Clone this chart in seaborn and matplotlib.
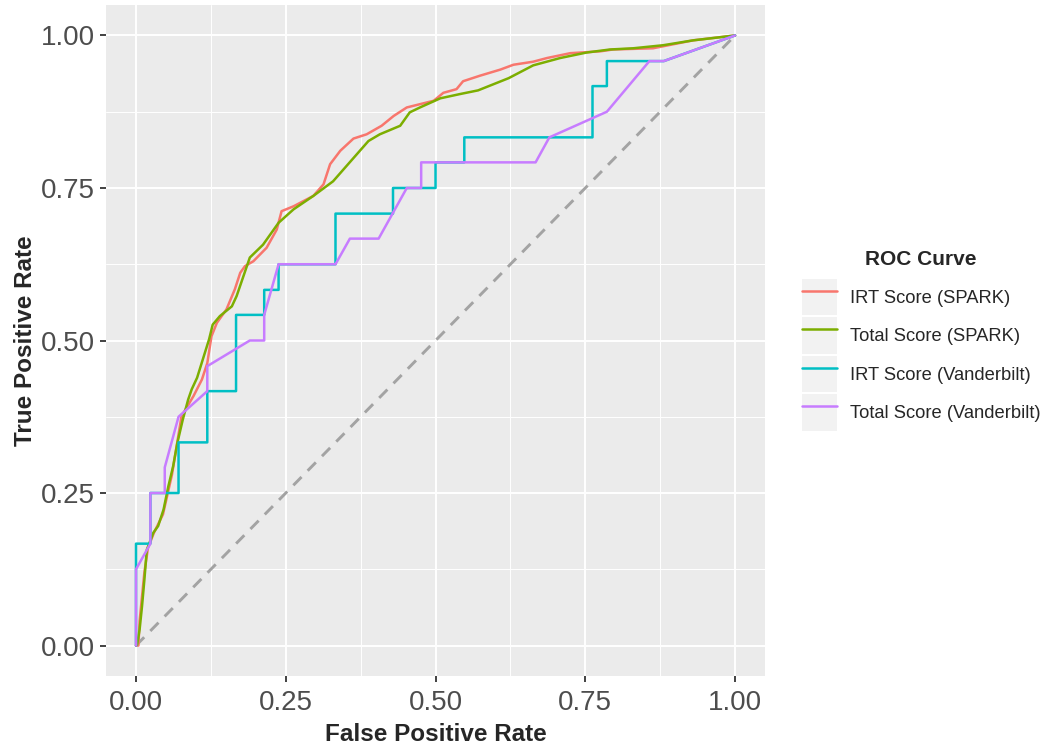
import matplotlib
matplotlib.use("Agg")
import matplotlib.pyplot as plt
from matplotlib.lines import Line2D
from matplotlib.patches import Patch
from matplotlib.legend_handler import HandlerTuple
from matplotlib.ticker import MultipleLocator
import seaborn as sns
import pandas as pd

series_names = ["IRT Score (SPARK)", "Total Score (SPARK)",
                "IRT Score (Vanderbilt)", "Total Score (Vanderbilt)"]
palette = ["#F8766D", "#7CAE00", "#00BFC4", "#C77CFF"]

irt_spark_fpr = [0, 0.004, 0.006, 0.01, 0.014, 0.02, 0.03, 0.045, 0.06, 0.076, 0.096, 0.11,
                 0.119, 0.126, 0.135, 0.151, 0.165, 0.174, 0.182, 0.196, 0.218, 0.235, 0.243,
                 0.263, 0.296, 0.313, 0.324, 0.341, 0.363, 0.385, 0.410, 0.430, 0.452, 0.497,
                 0.513, 0.535, 0.546, 0.574, 0.608, 0.630, 0.663, 0.686, 0.725, 0.775, 0.796,
                 0.863, 0.93, 1.0]
irt_spark_tpr = [0, 0.0, 0.04, 0.08, 0.12, 0.16, 0.185, 0.215, 0.28, 0.376, 0.409, 0.436,
                 0.463, 0.507, 0.529, 0.551, 0.584, 0.611, 0.622, 0.63, 0.652, 0.682, 0.712,
                 0.72, 0.737, 0.756, 0.789, 0.811, 0.831, 0.838, 0.852, 0.868, 0.882, 0.893,
                 0.906, 0.912, 0.925, 0.934, 0.944, 0.952, 0.957, 0.963, 0.971, 0.974, 0.977,
                 0.979, 0.992, 1.0]

total_spark_fpr = [0, 0.002, 0.006, 0.01, 0.014, 0.018, 0.029, 0.037, 0.046, 0.054, 0.062,
                   0.069, 0.078, 0.087, 0.093, 0.102, 0.115, 0.122, 0.128, 0.140, 0.160, 0.168,
                   0.190, 0.212, 0.238, 0.263, 0.296, 0.329, 0.354, 0.388, 0.407, 0.441, 0.457,
                   0.474, 0.508, 0.541, 0.571, 0.622, 0.663, 0.708, 0.752, 0.791, 0.830, 0.880,
                   0.930, 1.0]
total_spark_tpr = [0, 0.002, 0.026, 0.064, 0.108, 0.157, 0.185, 0.196, 0.223, 0.261, 0.294,
                   0.332, 0.370, 0.403, 0.42, 0.439, 0.48, 0.502, 0.526, 0.54, 0.556, 0.573,
                   0.636, 0.657, 0.693, 0.715, 0.737, 0.761, 0.789, 0.827, 0.838, 0.852, 0.874,
                   0.882, 0.897, 0.904, 0.910, 0.930, 0.951, 0.963, 0.972, 0.977, 0.979, 0.984,
                   0.992, 1.0]

irt_vand_fpr = [0, 0, 0.024, 0.024, 0.071, 0.071, 0.119, 0.119, 0.167, 0.167, 0.214, 0.214,
                0.238, 0.238, 0.333, 0.333, 0.429, 0.429, 0.5, 0.5, 0.548, 0.548, 0.762, 0.762,
                0.786, 0.786, 0.857, 0.881, 1.0]
irt_vand_tpr = [0, 0.167, 0.167, 0.25, 0.25, 0.333, 0.333, 0.417, 0.417, 0.542, 0.542, 0.583,
                0.583, 0.625, 0.625, 0.708, 0.708, 0.75, 0.75, 0.792, 0.792, 0.833, 0.833, 0.917,
                0.917, 0.958, 0.958, 0.958, 1.0]

total_vand_fpr = [0, 0, 0.024, 0.024, 0.048, 0.048, 0.071, 0.119, 0.119, 0.190, 0.214, 0.214,
                  0.238, 0.333, 0.357, 0.405, 0.452, 0.476, 0.476, 0.667, 0.690, 0.786, 0.857,
                  0.881, 1.0]
total_vand_tpr = [0, 0.125, 0.167, 0.25, 0.25, 0.292, 0.375, 0.417, 0.458, 0.5, 0.5, 0.542,
                  0.625, 0.625, 0.667, 0.667, 0.75, 0.75, 0.792, 0.792, 0.833, 0.875, 0.958,
                  0.958, 1.0]

diag = [0, 1]
x_ticks = [0.0, 0.25, 0.5, 0.75, 1.0]
tick_labels = ["0.00", "0.25", "0.50", "0.75", "1.00"]

frames = []
for name, fx, fy in zip(series_names,
                        [irt_spark_fpr, total_spark_fpr, irt_vand_fpr, total_vand_fpr],
                        [irt_spark_tpr, total_spark_tpr, irt_vand_tpr, total_vand_tpr]):
    d = pd.DataFrame({"fpr": fx, "tpr": fy})
    d["curve"] = name
    frames.append(d)
df = pd.concat(frames, ignore_index=True)

sns.set_theme(style="darkgrid")
plt.rcParams["font.family"] = ["Liberation Sans", "DejaVu Sans"]

fig = plt.figure(figsize=(10.5, 7.52), dpi=100)
ax = fig.add_axes([0.101, 0.101, 0.6276, 0.8924])
ax.set_facecolor("#EBEBEB")

ax.plot(diag, diag, color="#A3A3A3", lw=2.1, linestyle=(0, (4.0, 3.0)), zorder=1.5)

sns.lineplot(data=df, x="fpr", y="tpr", hue="curve", hue_order=series_names,
             palette=palette, sort=False, estimator=None, units="curve",
             linewidth=1.8, legend=False, ax=ax, zorder=2)

ax.set_xlim(-0.05, 1.05)
ax.set_ylim(-0.05, 1.05)
ax.set_xticks(x_ticks)
ax.set_xticklabels(tick_labels)
ax.set_yticks(x_ticks)
ax.set_yticklabels(tick_labels)
ax.xaxis.set_minor_locator(MultipleLocator(0.125))
ax.yaxis.set_minor_locator(MultipleLocator(0.125))
ax.grid(which="major", color="white", lw=1.4)
ax.grid(which="minor", color="white", lw=0.7)
ax.set_axisbelow(True)
for s in ax.spines.values():
    s.set_visible(False)
ax.tick_params(axis="both", which="major", length=4, width=1.3, color="#333333",
               labelsize=20, labelcolor="#4D4D4D", bottom=True, left=True)
ax.tick_params(axis="x", which="major", pad=6)
ax.tick_params(axis="y", which="major", pad=4)
ax.tick_params(axis="both", which="minor", length=0)

ax.set_xlabel("False Positive Rate", fontsize=17.5, fontweight="bold", labelpad=5)
ax.set_ylabel("True Positive Rate", fontsize=17.5, fontweight="bold", labelpad=3)

handles = [(Patch(facecolor="#F2F2F2", edgecolor="none"),
            Line2D([], [], color=c, lw=1.8)) for c in palette]
leg = ax.legend(handles, series_names, title="ROC Curve",
                handler_map={tuple: HandlerTuple(ndivide=1, pad=0)},
                loc="center left", bbox_to_anchor=(1.045, 0.50), frameon=False,
                fontsize=13.2, title_fontsize=15, handlelength=1.9, handleheight=2.7,
                labelspacing=0.1, handletextpad=0.7, borderaxespad=0)
leg.get_title().set_fontweight("bold")
leg._legend_box.sep = 7

fig.savefig("out.png", dpi=100)
